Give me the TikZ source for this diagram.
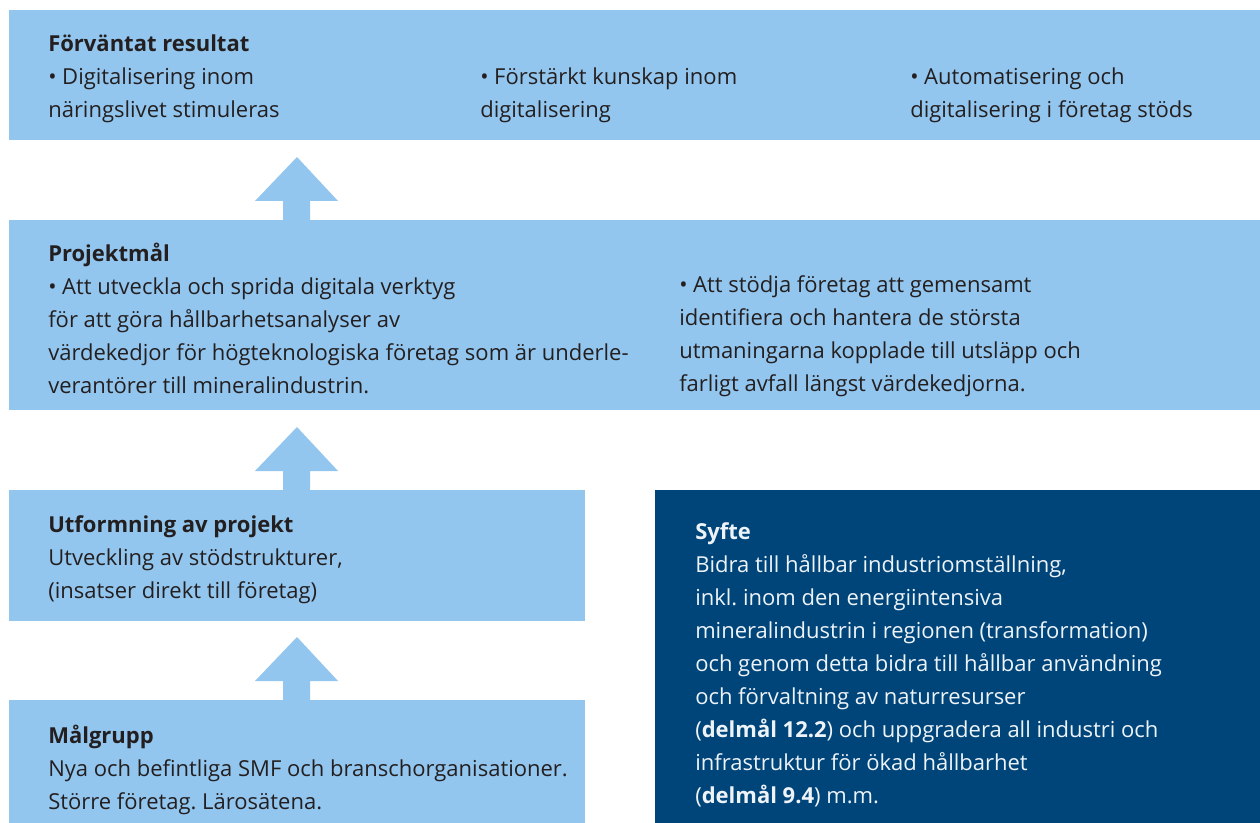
\documentclass[tikz,border=0pt]{standalone}
\usepackage{fontspec}
\setmainfont[Ligatures=NoCommon]{Open Sans}
\usetikzlibrary{calc}
\definecolor{lightblue}{HTML}{93C6EE}
\definecolor{navy}{HTML}{00457A}
\definecolor{txt}{HTML}{231F20}
\definecolor{wtxt}{HTML}{EEF3F8}
\frenchspacing
\begin{document}
\begin{tikzpicture}[x=0.75pt,y=-0.75pt,
  box/.style={fill=lightblue, draw=none, inner sep=0pt, outer sep=0pt, anchor=north west},
  darkbox/.style={fill=navy, draw=none, inner sep=0pt, outer sep=0pt, anchor=north west},
  textblock/.style={anchor=north west, inner sep=0pt, align=left, text=txt, font=\fontsize{16.5}{24.75}\selectfont},
  wtextblock/.style={textblock, text=wtxt},
  blockarrow/.style={fill=lightblue, draw=none}]
\useasboundingbox (0,0) rectangle (1260,823);
% boxes
\node[box, minimum width=938.25pt, minimum height=97.5pt] (res) at (9,10) {};
\node[box, minimum width=938.25pt, minimum height=142.5pt] (mal) at (9,220) {};
\node[box, minimum width=432pt, minimum height=98.25pt] (utf) at (9,490) {};
\node[box, minimum width=432pt, minimum height=92.25pt] (grp) at (9,700) {};
\node[darkbox, minimum width=453.75pt, minimum height=249.75pt] (syf) at (655,490) {};
% texts
\node[textblock] (t1a) at (48,35) {\textbf{Förväntat resultat}\\• Digitalisering inom\\näringslivet stimuleras};
\node[textblock] (t1b) at (480,68) {• Förstärkt kunskap inom\\digitalisering};
\node[textblock] (t1c) at (910,68) {• Automatisering och\\digitalisering i företag stöds};
\node[textblock] (t2a) at (48,243) {\textbf{Projektmål}\\• Att utveckla och sprida digitala verktyg\\för att göra hållbarhetsanalyser av\\värdekedjor för högteknologiska företag som är underle-\\verantörer till mineralindustrin.};
\node[textblock] (t2b) at (679,275) {• Att stödja företag att gemensamt\\identifiera och hantera de största\\utmaningarna kopplade till utsläpp och\\farligt avfall längst värdekedjorna.};
\node[textblock] (t3) at (48,515) {\textbf{Utformning av projekt}\\Utveckling av stödstrukturer,\\(insatser direkt till företag)};
\node[textblock] (t4) at (48,725) {\textbf{Målgrupp}\\Nya och befintliga SMF och branschorganisationer.\\Större företag. Lärosätena.};
\node[wtextblock] (t5) at (695,522) {\textbf{Syfte}\\Bidra till hållbar industriomställning,\\inkl. inom den energiintensiva\\mineralindustrin i regionen (transformation)\\och genom detta bidra till hållbar användning\\och förvaltning av naturresurser\\(\textbf{delmål 12.2}) och uppgradera all industri och\\infrastruktur för ökad hållbarhet\\(\textbf{delmål 9.4}) m.m.};
% block arrows
\coordinate (a1) at (297,157);
\fill[blockarrow] (a1) -- ++(41,44) -- ++(-28,0) -- ($(a1 |- mal.north)+(13,0)$) -- ($(a1 |- mal.north)+(-14,0)$) -- ++(0,-19) -- ++(-28,0) -- cycle;
\coordinate (a2) at (297,427);
\fill[blockarrow] (a2) -- ++(41,44) -- ++(-28,0) -- ($(a2 |- utf.north)+(13,0)$) -- ($(a2 |- utf.north)+(-14,0)$) -- ++(0,-19) -- ++(-28,0) -- cycle;
\coordinate (a3) at (297,637);
\fill[blockarrow] (a3) -- ++(41,44) -- ++(-28,0) -- ($(a3 |- grp.north)+(13,0)$) -- ($(a3 |- grp.north)+(-14,0)$) -- ++(0,-19) -- ++(-28,0) -- cycle;
\end{tikzpicture}
\end{document}
